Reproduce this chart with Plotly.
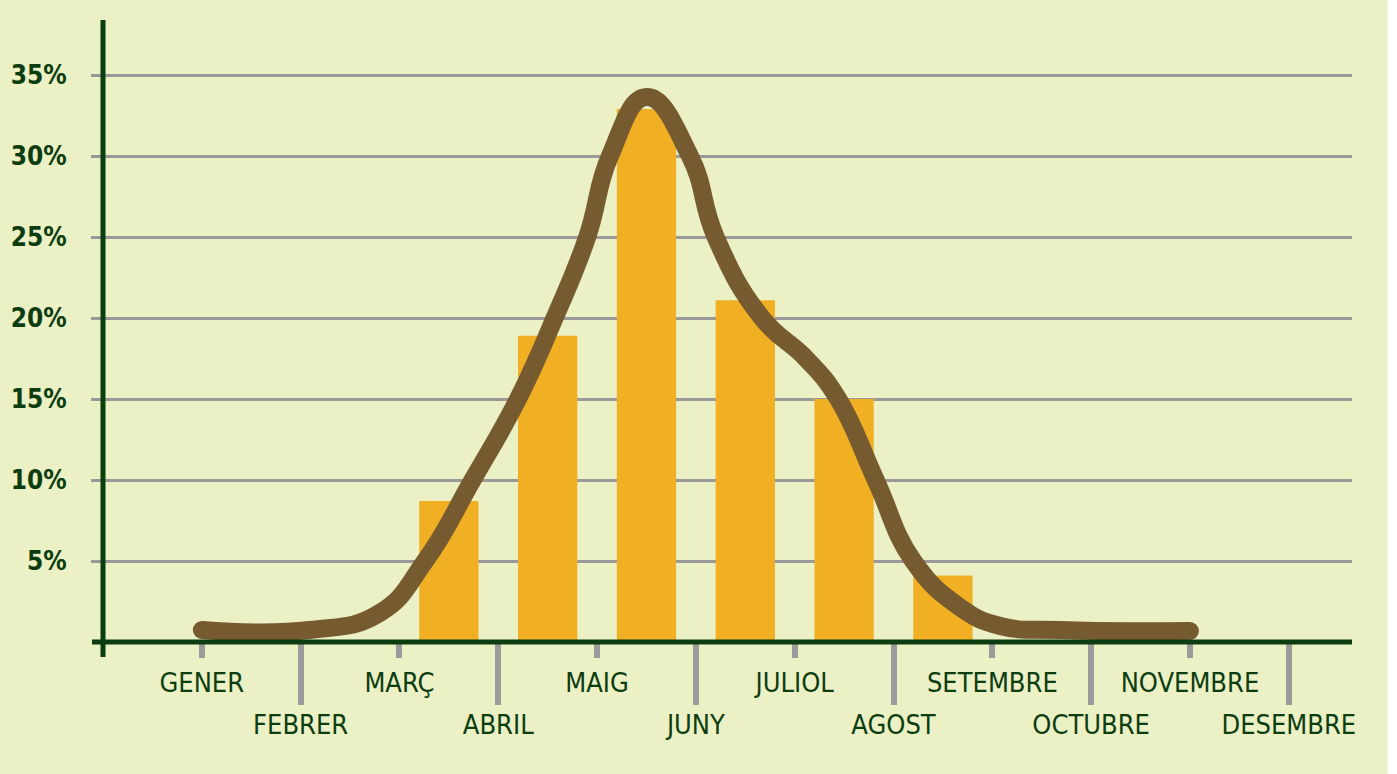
import plotly.graph_objects as go

# Months (Catalan) - first row of labels on short ticks, second row on long ticks
months = ["GENER", "FEBRER", "MARÇ", "ABRIL", "MAIG", "JUNY",
          "JULIOL", "AGOST", "SETEMBRE", "OCTUBRE", "NOVEMBRE", "DESEMBRE"]

# Bars (percent), placed between month ticks
bar_months = ["MARÇ", "ABRIL", "MAIG", "JUNY", "JULIOL", "AGOST"]
bar_values = [8.7, 18.9, 32.9, 21.1, 15.0, 4.1]

# Smoothed curve (x in month units, GENER = 0)
curve_x = [0, 1.09, 1.8, 2.26, 2.74, 3.2, 3.57, 3.9, 4.13, 4.5,
           4.94, 5.2, 5.67, 6.12, 6.44, 6.82, 7.2, 7.67, 8.08, 8.68, 10.0]
curve_y = [0.74, 0.74, 1.79, 5.0, 10.0, 15.0, 20.0, 25.0, 30.0, 33.64,
           30.0, 25.0, 20.0, 17.47, 15.0, 10.0, 5.0, 2.16, 0.99, 0.74, 0.68]

y_ticks = [5, 10, 15, 20, 25, 30, 35]

BG = "#ECF0C5"
GREEN = "#0B3D10"
GREY = "#999999"
ORANGE = "#F1AF24"
BROWN = "#775B30"
FONT = "Liberation Sans Narrow, Arial Narrow, DejaVu Sans Condensed, Roboto Condensed, sans-serif"

month_idx = {m: i for i, m in enumerate(months)}

fig = go.Figure()

fig.add_trace(go.Bar(
    x=[month_idx[m] for m in bar_months],
    y=bar_values,
    width=0.6,
    offset=0.2,
    marker=dict(color=ORANGE, line=dict(width=0)),
    hoverinfo="skip",
))

fig.add_trace(go.Scatter(
    x=curve_x, y=curve_y,
    mode="lines",
    line=dict(color=BROWN, width=18, shape="spline", smoothing=1.3, simplify=False),
    hoverinfo="skip",
))

# round ends of the curve
fig.add_trace(go.Scatter(
    x=[curve_x[0], curve_x[-1]], y=[curve_y[0], curve_y[-1]],
    mode="markers",
    marker=dict(color=BROWN, size=18),
    xaxis="x2",
    hoverinfo="skip",
))

x_range = [-1.0, 11.64]
tick_common = dict(
    range=x_range, showgrid=False, zeroline=False, showline=False,
    ticks="outside", tickwidth=6, tickcolor="#9B9B9B",
    tickfont=dict(family=FONT, size=27, color=GREEN),
)

fig.update_layout(
    width=1397, height=774,
    margin=dict(l=103, r=45, t=20, b=132),
    paper_bgcolor=BG, plot_bgcolor=BG,
    showlegend=False,
    xaxis=dict(
        tickvals=list(range(0, 12, 2)),
        ticktext=months[0::2],
        ticklen=15, ticklabelstandoff=2,
        **tick_common,
    ),
    xaxis2=dict(
        overlaying="x", anchor="y", side="bottom",
        tickvals=list(range(1, 12, 2)),
        ticktext=months[1::2],
        ticklen=62, ticklabelstandoff=-3,
        **tick_common,
    ),
    yaxis=dict(
        range=[0, 38.4],
        tickvals=y_ticks,
        ticktext=[f"{v}%" for v in y_ticks],
        showgrid=True, gridcolor=GREY, gridwidth=3,
        zeroline=False, showline=False,
        ticks="outside", ticklen=11, tickwidth=3, tickcolor=GREY,
        ticklabelstandoff=19,
        tickfont=dict(family=FONT, size=26, color=GREEN, weight="bold"),
    ),
    shapes=[
        # y axis line, runs a little below the x axis
        dict(type="line", xref="paper", yref="paper", x0=0, x1=0,
             y0=-0.0241, y1=1.0, line=dict(color=GREEN, width=5)),
        # x axis line, starts a little left of the y axis
        dict(type="line", xref="paper", yref="paper", x0=-0.0088, x1=1.0,
             y0=0, y1=0, line=dict(color=GREEN, width=5)),
        # white strip at the right edge of the picture
        dict(type="rect", xref="paper", yref="paper", x0=1.0284, x1=1.05,
             y0=-0.25, y1=1.05, fillcolor="white", line=dict(width=0)),
    ],
)

# no page margin, so the figure sits at the window's top-left corner
fig.write_html("out.html", config={"displayModeBar": False},
               post_script="document.body.style.margin = '0';")
